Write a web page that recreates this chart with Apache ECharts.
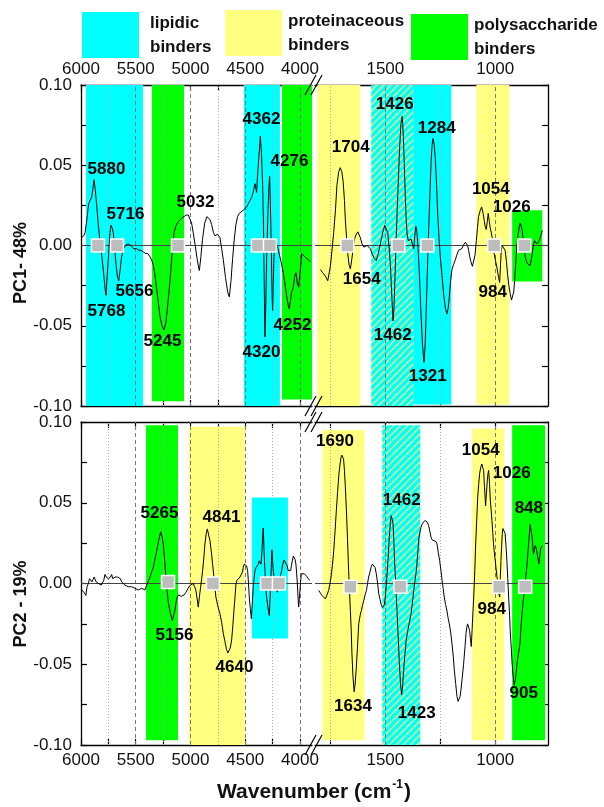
<!DOCTYPE html>
<html><head><meta charset="utf-8">
<script src="https://cdn.jsdelivr.net/npm/echarts@6/dist/echarts.min.js"></script>
<style>html,body{margin:0;padding:0;background:#fff}#c{width:604px;height:807px}</style>
</head><body><div id="c"></div>
<script>
const FONT = '"Liberation Sans", Arial, Helvetica, sans-serif';

// ---------- axis ranges & tick labels ----------
const leftRange = [3890, 6000];
const rightRange = [760, 1820];
const leftTicks = [4000, 4250, 4500, 4750, 5000, 5250, 5500, 5750, 6000];
const leftTickLabels = [4000, 4500, 5000, 5500, 6000];
const rightTicks = [1000, 1250, 1500, 1750];
const rightTickLabels = [1000, 1500];
const yTickLabels = [-0.10, -0.05, 0.00, 0.05, 0.10];
const gridLinesLeft = [5750, 5500, 5250, 5000, 4750, 4500, 4250, 4000];
const gridLinesRight = [1750, 1500, 1250, 1000];

// ---------- band categories ----------
const bandNames = { lipidic: 'lipidic\nbinders', protein: 'proteinaceous\nbinders', poly: 'polysaccharide\nbinders', mixed: 'lipidic + proteinaceous' };

// [type, from wn, to wn, top value, bottom value]
const bandsPC1Left = [['lipidic',5954,5434,0.1,-0.1],['poly',5352,5059,0.1,-0.097],['lipidic',4511,4183,0.1,-0.1],['poly',4164,3890,0.1,-0.096]];
const bandsPC1Right = [['protein',1809,1614,0.1,-0.1],['mixed',1564,1373,0.1,-0.1],['lipidic',1373,1200,0.1,-0.099],['protein',1086,936,0.1,-0.099],['poly',923,786,0.022,-0.0224]];
const bandsPC2Left = [['poly',5406,5114,0.098,-0.097],['protein',5014,4502,0.097,-0.1],['lipidic',4438,4110,0.0533,-0.034]];
const bandsPC2Right = [['protein',1786,1595,0.095,-0.097],['mixed',1514,1341,0.098,-0.1],['protein',1105,959,0.096,-0.097],['poly',923,773,0.098,-0.097]];

// ---------- spectra [wavenumber, loading] ----------
const pc1Left = [[5994,0.005],[5975,0.006],[5963,0.008],[5945,0.017],[5930,0.026],[5915,0.027],[5903,0.030],[5890,0.036],[5881,0.041],[5870,0.035],[5858,0.026],[5842,0.013],[5825,0.001],[5811,-0.006],[5795,-0.016],[5780,-0.027],[5772,-0.031],[5760,-0.018],[5744,-0.002],[5735,0.008],[5726,0.0125],[5715,0.011],[5705,0.008],[5692,-0.002],[5680,-0.012],[5668,-0.019],[5656,-0.022],[5642,-0.015],[5629,-0.007],[5610,-0.002],[5595,0.000],[5583,0.000],[5570,0.001],[5555,0.002],[5545,0.000],[5537,0.001],[5520,-0.002],[5505,-0.001],[5491,-0.002],[5470,-0.003],[5450,-0.003],[5431,-0.004],[5410,-0.005],[5390,-0.005],[5370,-0.007],[5355,-0.009],[5340,-0.012],[5325,-0.018],[5309,-0.027],[5293,-0.036],[5279,-0.044],[5260,-0.050],[5242,-0.0526],[5225,-0.048],[5212,-0.040],[5195,-0.028],[5180,-0.016],[5165,-0.002],[5150,0.008],[5135,0.012],[5126,0.013],[5110,0.015],[5096,0.015],[5080,0.017],[5059,0.018],[5040,0.019],[5020,0.019],[5005,0.018],[4990,0.014],[4975,0.008],[4959,0.001],[4940,-0.008],[4925,-0.014],[4919,-0.0156],[4905,-0.007],[4890,0.004],[4870,0.014],[4850,0.018],[4837,0.0187],[4820,0.016],[4807,0.013],[4790,0.008],[4776,0.006],[4755,0.007],[4740,0.007],[4731,0.005],[4715,-0.002],[4700,-0.009],[4680,-0.020],[4660,-0.029],[4645,-0.032],[4630,-0.022],[4615,-0.008],[4600,0.004],[4585,0.013],[4570,0.018],[4555,0.020],[4540,0.021],[4518,0.022],[4500,0.023],[4487,0.024],[4465,0.027],[4441,0.030],[4425,0.034],[4411,0.0385],[4404,0.036],[4396,0.033],[4389,0.042],[4381,0.050],[4370,0.060],[4362,0.068],[4352,0.058],[4341,0.038],[4333,0.012],[4327,-0.020],[4320,-0.057],[4313,-0.040],[4305,-0.010],[4295,0.015],[4285,0.035],[4277,0.043],[4270,0.025],[4262,0.000],[4255,-0.030],[4250,-0.0406],[4244,-0.025],[4238,-0.008],[4230,0.003],[4222,0.004],[4208,0.000],[4190,-0.005],[4167,-0.012],[4150,-0.018],[4137,-0.024],[4120,-0.032],[4105,-0.038],[4098,-0.0395],[4088,-0.035],[4076,-0.029],[4061,-0.026],[4050,-0.020],[4037,-0.017],[4030,-0.020],[4024,-0.024],[4012,-0.026],[4000,-0.025],[3992,-0.012],[3985,-0.005],[3970,-0.006],[3940,-0.008],[3903,-0.010]];

const pc1Right = [[1795,-0.015],[1785,-0.017],[1773,-0.019],[1762,-0.022],[1750,-0.013],[1742,-0.002],[1735,0.008],[1727,0.022],[1720,0.038],[1712,0.046],[1705,0.0485],[1698,0.046],[1692,0.040],[1686,0.028],[1682,0.016],[1676,0.004],[1671,-0.005],[1665,-0.012],[1659,-0.0146],[1652,-0.008],[1644,0.001],[1638,0.005],[1632,0.007],[1625,0.0085],[1621,0.008],[1614,0.005],[1606,0.001],[1598,-0.001],[1591,-0.002],[1583,0.000],[1576,0.001],[1568,-0.002],[1561,-0.005],[1550,-0.008],[1541,-0.0094],[1532,-0.005],[1523,0.001],[1512,0.008],[1503,0.0125],[1497,0.012],[1489,0.008],[1483,-0.001],[1477,-0.012],[1470,-0.033],[1465,-0.047],[1461,-0.040],[1457,-0.024],[1452,-0.002],[1447,0.019],[1441,0.040],[1435,0.061],[1429,0.076],[1423,0.0805],[1418,0.068],[1414,0.051],[1409,0.030],[1405,0.015],[1400,0.006],[1395,0.003],[1389,0.004],[1383,0.004],[1377,0.001],[1371,-0.002],[1366,0.006],[1361,0.012],[1356,0.008],[1351,-0.002],[1345,-0.018],[1338,-0.042],[1331,-0.062],[1324,-0.0728],[1319,-0.062],[1314,-0.040],[1308,-0.012],[1303,0.010],[1297,0.033],[1292,0.052],[1287,0.063],[1283,0.0666],[1278,0.063],[1273,0.055],[1267,0.038],[1262,0.020],[1256,0.005],[1250,-0.007],[1242,-0.019],[1235,-0.030],[1227,-0.039],[1220,-0.0426],[1214,-0.039],[1209,-0.032],[1203,-0.022],[1197,-0.015],[1190,-0.012],[1182,-0.009],[1175,-0.006],[1167,-0.003],[1160,-0.002],[1152,-0.002],[1146,0.000],[1141,0.001],[1136,0.002],[1132,0.003],[1126,0.000],[1121,-0.003],[1116,-0.007],[1111,-0.010],[1104,-0.013],[1098,-0.0135],[1092,-0.006],[1086,0.003],[1081,0.011],[1076,0.018],[1068,0.022],[1062,0.024],[1059,0.0243],[1055,0.020],[1050,0.0156],[1046,0.012],[1041,0.010],[1036,0.015],[1032,0.020],[1027,0.015],[1023,0.011],[1018,0.008],[1014,0.005],[1009,0.000],[1005,-0.005],[998,-0.010],[992,-0.014],[986,-0.019],[980,-0.023],[976,-0.012],[973,-0.004],[969,0.000],[966,0.001],[960,-0.001],[955,-0.003],[949,-0.010],[944,-0.018],[938,-0.025],[932,-0.030],[926,-0.034],[921,-0.0347],[916,-0.029],[912,-0.022],[907,-0.011],[902,-0.001],[896,0.007],[891,0.0114],[886,0.014],[882,0.015],[878,0.010],[874,0.005],[869,-0.002],[864,-0.007],[858,-0.010],[853,-0.0114],[847,-0.012],[841,-0.0125],[835,-0.008],[830,-0.003],[825,0.001],[821,0.003],[816,0.002],[811,0.001],[805,0.002],[800,0.003],[793,0.006],[786,0.0094]];

const pc2Left = [[5994,-0.004],[5985,-0.003],[5973,-0.0054],[5965,-0.006],[5955,-0.0074],[5945,-0.002],[5933,0.000],[5922,0.003],[5912,0.003],[5900,0.001],[5887,0.002],[5880,0.004],[5872,0.004],[5862,0.001],[5851,0.002],[5840,0.000],[5826,0.000],[5815,-0.001],[5802,-0.002],[5792,0.002],[5781,0.0056],[5770,0.004],[5760,0.005],[5750,0.003],[5742,0.004],[5730,0.004],[5720,0.0056],[5710,0.003],[5699,0.002],[5688,0.004],[5677,0.003],[5665,0.004],[5650,0.005],[5640,0.003],[5629,0.001],[5615,0.000],[5598,-0.001],[5585,-0.001],[5568,-0.002],[5550,-0.001],[5537,-0.002],[5520,-0.002],[5507,-0.003],[5490,-0.003],[5477,-0.004],[5460,-0.003],[5446,-0.003],[5430,-0.004],[5416,-0.004],[5405,-0.002],[5394,0.000],[5382,0.002],[5370,0.004],[5355,0.007],[5340,0.010],[5325,0.015],[5309,0.020],[5290,0.027],[5272,0.032],[5260,0.029],[5248,0.0245],[5236,0.014],[5224,0.004],[5213,-0.005],[5203,-0.0115],[5185,-0.018],[5166,-0.0229],[5155,-0.020],[5142,-0.0167],[5130,-0.011],[5120,-0.0084],[5108,-0.007],[5096,-0.0074],[5085,-0.008],[5072,-0.0084],[5057,-0.007],[5041,-0.0054],[5022,-0.003],[5005,-0.0012],[4990,0.000],[4975,0.000],[4962,-0.002],[4950,-0.0043],[4940,-0.009],[4929,-0.0146],[4918,-0.008],[4907,-0.002],[4898,0.003],[4889,0.008],[4878,0.016],[4868,0.0245],[4856,0.031],[4846,0.0338],[4834,0.030],[4822,0.0266],[4810,0.020],[4798,0.012],[4783,0.002],[4768,-0.0084],[4750,-0.014],[4731,-0.0187],[4715,-0.024],[4700,-0.031],[4685,-0.036],[4670,-0.041],[4658,-0.043],[4650,-0.043],[4637,-0.040],[4624,-0.035],[4613,-0.026],[4603,-0.0167],[4593,-0.008],[4584,0.000],[4574,0.002],[4563,0.003],[4548,0.004],[4533,0.005],[4525,0.007],[4518,0.010],[4508,0.012],[4499,0.0132],[4488,0.011],[4478,0.008],[4470,0.000],[4463,-0.0084],[4453,-0.016],[4444,-0.0218],[4435,-0.012],[4426,-0.002],[4418,0.004],[4411,0.008],[4400,0.010],[4390,0.011],[4380,0.012],[4372,0.014],[4364,0.013],[4356,0.012],[4347,0.020],[4340,0.030],[4335,0.0344],[4328,0.020],[4320,0.008],[4312,-0.002],[4305,-0.0084],[4292,-0.015],[4280,-0.0198],[4274,-0.010],[4268,-0.002],[4262,0.010],[4256,0.0208],[4250,0.014],[4244,0.008],[4235,0.003],[4226,0.000],[4216,-0.003],[4207,-0.0054],[4198,-0.001],[4189,0.002],[4178,0.005],[4167,0.008],[4157,0.012],[4146,0.0146],[4137,0.015],[4128,0.014],[4117,0.011],[4107,0.008],[4095,0.007],[4085,0.008],[4078,0.011],[4070,0.014],[4060,0.017],[4052,0.018],[4045,0.015],[4037,0.012],[4030,0.006],[4024,0.000],[4018,-0.008],[4012,-0.0146],[4006,-0.010],[4000,-0.0043],[3994,0.001],[3988,0.006],[3976,0.0068],[3960,0.006],[3939,0.0045],[3925,0.003],[3909,0.002]];

const pc2Right = [[1803,-0.0043],[1795,-0.006],[1788,-0.0074],[1780,-0.0085],[1773,-0.0095],[1765,-0.007],[1758,-0.0043],[1752,0.000],[1747,0.004],[1741,0.011],[1735,0.020],[1729,0.032],[1723,0.045],[1717,0.057],[1711,0.068],[1706,0.074],[1702,0.078],[1698,0.0795],[1694,0.080],[1690,0.077],[1686,0.070],[1682,0.060],[1677,0.045],[1672,0.027],[1667,0.008],[1663,-0.005],[1659,-0.0167],[1655,-0.030],[1652,-0.0435],[1647,-0.058],[1642,-0.067],[1638,-0.063],[1633,-0.054],[1627,-0.040],[1621,-0.025],[1615,-0.020],[1609,-0.0167],[1603,-0.013],[1598,-0.0105],[1592,-0.007],[1586,-0.0043],[1581,0.000],[1576,0.004],[1570,0.007],[1565,0.010],[1559,0.012],[1553,0.0132],[1547,0.010],[1541,0.006],[1535,0.000],[1530,-0.0064],[1524,-0.010],[1518,-0.0136],[1513,-0.015],[1508,-0.0157],[1504,-0.013],[1500,-0.0084],[1494,0.002],[1489,0.012],[1484,0.024],[1480,0.0328],[1476,0.039],[1473,0.042],[1469,0.040],[1465,0.037],[1461,0.026],[1458,0.014],[1452,-0.002],[1447,-0.0167],[1441,-0.035],[1436,-0.050],[1431,-0.062],[1426,-0.069],[1421,-0.063],[1417,-0.054],[1411,-0.044],[1405,-0.035],[1400,-0.031],[1395,-0.027],[1389,-0.023],[1383,-0.0187],[1377,-0.012],[1371,-0.0043],[1365,0.002],[1359,0.008],[1353,0.018],[1347,0.0286],[1342,0.032],[1338,0.0348],[1332,0.037],[1326,0.038],[1320,0.039],[1315,0.040],[1309,0.038],[1303,0.0358],[1297,0.032],[1292,0.0286],[1287,0.027],[1283,0.0266],[1279,0.0275],[1276,0.0276],[1270,0.026],[1265,0.0245],[1259,0.019],[1253,0.0142],[1247,0.008],[1242,0.002],[1237,-0.003],[1232,-0.0084],[1226,-0.013],[1220,-0.0167],[1215,-0.021],[1209,-0.025],[1203,-0.030],[1197,-0.037],[1191,-0.045],[1186,-0.054],[1180,-0.062],[1174,-0.070],[1169,-0.073],[1165,-0.073],[1160,-0.070],[1156,-0.066],[1150,-0.058],[1144,-0.050],[1138,-0.040],[1133,-0.031],[1129,-0.027],[1126,-0.025],[1121,-0.027],[1117,-0.029],[1113,-0.034],[1109,-0.039],[1104,-0.025],[1098,-0.0084],[1093,0.008],[1089,0.0245],[1084,0.040],[1080,0.053],[1075,0.062],[1071,0.068],[1066,0.072],[1061,0.074],[1057,0.073],[1053,0.070],[1049,0.060],[1044,0.048],[1040,0.056],[1036,0.064],[1033,0.068],[1030,0.070],[1026,0.062],[1023,0.053],[1019,0.046],[1015,0.039],[1011,0.031],[1008,0.0245],[1004,0.019],[1000,0.0142],[996,0.009],[992,0.004],[989,0.000],[985,-0.0054],[980,-0.0084],[977,0.003],[974,0.0142],[971,0.023],[968,0.031],[965,0.034],[962,0.035],[959,0.034],[955,0.031],[951,0.023],[947,0.0142],[943,0.003],[939,-0.0084],[935,-0.019],[932,-0.029],[927,-0.040],[923,-0.050],[918,-0.058],[914,-0.063],[909,-0.060],[905,-0.056],[902,-0.051],[899,-0.0476],[895,-0.047],[891,-0.0466],[887,-0.037],[883,-0.027],[879,-0.020],[874,-0.0126],[869,-0.006],[864,0.000],[858,0.008],[853,0.0163],[847,0.027],[841,0.0365],[837,0.033],[832,0.0286],[829,0.023],[826,0.0183],[822,0.021],[818,0.0235],[814,0.022],[811,0.020],[806,0.016],[802,0.012],[798,0.016],[794,0.0214],[789,0.023],[785,0.0235]];

// ---------- grey zero-crossing markers ----------
const markersPC1Left = [[5845,0],[5671,0],[5114,0],[4384,0],[4274,0]];
const markersPC1Right = [[1673,0],[1441,0],[1309,0],[1005,0],[868,0]];
const markersPC2Left = [[5205,0.001],[4795,0],[4301,0],[4192,0]];
const markersPC2Right = [[1659,-0.002],[1432,-0.002],[982,-0.002],[864,-0.002]];

// ---------- peak annotations [text, wn, value] ----------
const labelsPC1Left = [['5880',5763,0.0473],['5716',5589,0.0193],['5656',5507,-0.0287],['5768',5763,-0.0411],['5245',5251,-0.0598],['5032',4950,0.0268],['4362',4347,0.0785],['4276',4091,0.0523],['4320',4347,-0.0667],['4252',4064,-0.0498]];
const labelsPC1Right = [['1426',1455,0.0878],['1284',1264,0.0729],['1704',1655,0.0611],['1654',1605,-0.0212],['1462',1464,-0.0561],['1321',1305,-0.0816],['1054',1018,0.0349],['1026',923,0.0237],['984',1009,-0.0293]];
const labelsPC2Left = [['5265',5279,0.0433],['4841',4712,0.0409],['5156',5142,-0.0322],['4640',4594,-0.052]];
const labelsPC2Right = [['1690',1727,0.0879],['1634',1645,-0.0761],['1462',1423,0.0514],['1423',1355,-0.0805],['1054',1064,0.0823],['1026',923,0.0681],['848',845,0.0464],['984',1014,-0.0161],['905',868,-0.0681]];

// ---------- styles ----------
const COLORS = { lipidic: '#00ffff', protein: '#ffff80', poly: '#00ff00' };
function hatchPattern() {
  const s = 7, c = document.createElement('canvas');
  c.width = s; c.height = s;
  const x = c.getContext('2d');
  x.fillStyle = '#00ffff'; x.fillRect(0, 0, s, s);
  x.strokeStyle = '#f4f47a'; x.lineWidth = 1.3;
  x.beginPath();
  for (let k = -1; k <= 1; k++) { x.moveTo(k * s, s); x.lineTo(k * s + s, 0); }
  x.stroke();
  return { image: c, repeat: 'repeat' };
}
const HATCH = hatchPattern();

const grids = [
  { left: 81, top: 85, width: 231, height: 321 },
  { left: 315, top: 85, width: 233, height: 321 },
  { left: 81, top: 422, width: 231, height: 323 },
  { left: 315, top: 422, width: 233, height: 323 }
];

function xAx(g, pos, showLabel) {
  const isLeft = g % 2 === 0;
  const r = isLeft ? leftRange : rightRange;
  return {
    type: 'value', gridIndex: g, position: pos, inverse: true, min: r[0], max: r[1],
    axisLine: { show: true, onZero: false, lineStyle: { color: '#000', width: 1.3 } },
    axisTick: { show: true, inside: true, length: 6, customValues: isLeft ? leftTicks : rightTicks, lineStyle: { color: '#000', width: 1.2 } },
    axisLabel: { show: showLabel, customValues: isLeft ? leftTickLabels : rightTickLabels, formatter: v => String(Math.round(v)),
      fontSize: 17, color: '#111', fontFamily: FONT, margin: 7, hideOverlap: false, showMinLabel: true, showMaxLabel: true },
    splitLine: { show: false }
  };
}
function yAx(g) {
  const isLeft = g % 2 === 0;
  return {
    type: 'value', gridIndex: g, position: isLeft ? 'left' : 'right', min: -0.1, max: 0.1, interval: 0.05,
    axisLine: { show: true, onZero: false, lineStyle: { color: '#000', width: 1.3 } },
    axisTick: { show: true, inside: true, length: 6, lineStyle: { color: '#000', width: 1.2 } },
    minorTick: { show: true, splitNumber: 2, length: 6, lineStyle: { color: '#000', width: 1.2 } },
    axisLabel: { show: isLeft, customValues: yTickLabels, formatter: v => (Math.abs(v) < 1e-9 ? 0 : v).toFixed(2), fontSize: 17, color: '#111', fontFamily: FONT, margin: 9 },
    splitLine: { show: false }, minorSplitLine: { show: false }
  };
}

function bandSeries(g, bands) {
  const out = [];
  for (const key of ['lipidic', 'protein', 'poly', 'mixed']) {
    const list = bands.filter(b => b[0] === key);
    if (!list.length) continue;
    out.push({
      type: 'line', name: bandNames[key], xAxisIndex: 2 * g, yAxisIndex: g, data: [], silent: true, z: 1,
      color: key === 'mixed' ? '#00ffff' : COLORS[key],
      markArea: {
        silent: true, z: 1, label: { show: false },
        itemStyle: { color: key === 'mixed' ? HATCH : COLORS[key], borderWidth: 0, opacity: 1 },
        data: list.map(b => [{ xAxis: b[1], yAxis: b[3] }, { xAxis: b[2], yAxis: b[4] }])
      }
    });
  }
  return out;
}
function refSeries(g, vals) {
  return {
    type: 'line', xAxisIndex: 2 * g, yAxisIndex: g, data: [], silent: true, z: 2,
    markLine: {
      silent: true, z: 2, symbol: ['none', 'none'], label: { show: false }, animation: false,
      emphasis: { disabled: true },
      data: vals.map(v => ({ xAxis: v, lineStyle: { type: v % 500 === 0 ? [4, 3] : [1, 2], color: v % 500 === 0 ? '#777' : '#aaa', width: 1 } }))
        .concat([{ yAxis: 0, lineStyle: { type: 'solid', color: '#444', width: 1 } }])
    }
  };
}
function curveSeries(g, data) {
  return { type: 'line', xAxisIndex: 2 * g, yAxisIndex: g, data: data, showSymbol: false, symbol: 'none', silent: true, z: 3,
    lineStyle: { color: '#000', width: 1 } };
}
function markerSeries(g, data) {
  return { type: 'scatter', xAxisIndex: 2 * g, yAxisIndex: g, data: data, symbol: 'rect', symbolSize: 13, silent: true, z: 4,
    itemStyle: { color: '#bdbdbd', borderColor: '#fff', borderWidth: 1.5, opacity: 1 } };
}
function labelSeries(g, labels) {
  return { type: 'scatter', xAxisIndex: 2 * g, yAxisIndex: g, silent: true, z: 5, clip: false,
    data: labels.map(l => ({ name: l[0], value: [l[1], l[2]] })), symbolSize: 1,
    itemStyle: { color: 'rgba(255,255,255,0)', opacity: 1 },
    label: { show: true, position: [0, 0], align: 'center', verticalAlign: 'middle', formatter: '{b}', fontSize: 17, fontWeight: 'bold',
      color: '#000', opacity: 1, textBorderWidth: 0, fontFamily: FONT } };
}

const panelData = [
  { bands: bandsPC1Left, ref: gridLinesLeft, curve: pc1Left, markers: markersPC1Left, labels: labelsPC1Left },
  { bands: bandsPC1Right, ref: gridLinesRight, curve: pc1Right, markers: markersPC1Right, labels: labelsPC1Right },
  { bands: bandsPC2Left, ref: gridLinesLeft, curve: pc2Left, markers: markersPC2Left, labels: labelsPC2Left },
  { bands: bandsPC2Right, ref: gridLinesRight, curve: pc2Right, markers: markersPC2Right, labels: labelsPC2Right }
];

const series = [];
panelData.forEach((p, g) => {
  series.push(...bandSeries(g, p.bands));
  series.push(refSeries(g, p.ref));
  series.push(curveSeries(g, p.curve));
  series.push(markerSeries(g, p.markers));
  series.push(labelSeries(g, p.labels));
});

const xAxes = [];
for (let g = 0; g < 4; g++) {
  xAxes.push(xAx(g, 'bottom', g >= 2));
  xAxes.push(xAx(g, 'top', g < 2));
}

function breakMarks(y) {
  return [
    { type: 'line', shape: { x1: 305, y1: y + 10, x2: 316, y2: y - 10 }, style: { stroke: '#000', lineWidth: 1.2 }, z: 100 },
    { type: 'line', shape: { x1: 311, y1: y + 10, x2: 322, y2: y - 10 }, style: { stroke: '#000', lineWidth: 1.2 }, z: 100 }
  ];
}

const legendNames = [bandNames.lipidic, bandNames.protein, bandNames.poly];
const legendPos = [[82, 11], [225, 9], [411, 13]];

const option = {
  animation: false,
  backgroundColor: '#fff',
  grid: grids,
  xAxis: xAxes,
  yAxis: [0, 1, 2, 3].map(yAx),
  legend: legendNames.map((n, i) => ({
    data: [n], left: legendPos[i][0], top: legendPos[i][1], icon: 'rect', itemWidth: 57, itemHeight: 46, itemGap: 0,
    selectedMode: false, padding: 0,
    textStyle: { fontSize: 17, fontWeight: 'bold', fontFamily: FONT, color: '#111', lineHeight: 24, padding: [0, 0, 0, i === 0 ? 6 : 1] }
  })),
  graphic: [
    ...breakMarks(85), ...breakMarks(406), ...breakMarks(422), ...breakMarks(745),
    { type: 'text', x: 21, y: 263, rotation: Math.PI / 2, style: { text: 'PC1- 48%', font: 'bold 18px ' + FONT, fill: '#111', align: 'center', verticalAlign: 'middle' } },
    { type: 'text', x: 21, y: 604, rotation: Math.PI / 2, style: { text: 'PC2 - 19%', font: 'bold 18px ' + FONT, fill: '#111', align: 'center', verticalAlign: 'middle' } },
    { type: 'text', x: 314, y: 792, style: { text: '{a|Wavenumber (cm}{s|-1}{a|)}', align: 'center', verticalAlign: 'middle',
      rich: { a: { fontSize: 21, fontWeight: 'bold', fontFamily: FONT, fill: '#111', lineHeight: 26 },
              s: { fontSize: 12, fontWeight: 'bold', fontFamily: FONT, fill: '#111', verticalAlign: 'top', lineHeight: 26, padding: [0, 1, 0, 1] } } } }
  ],
  series: series
};

const chart = echarts.init(document.getElementById('c'), null, { renderer: 'canvas' });
chart.setOption(option);
</script>
</body></html>
